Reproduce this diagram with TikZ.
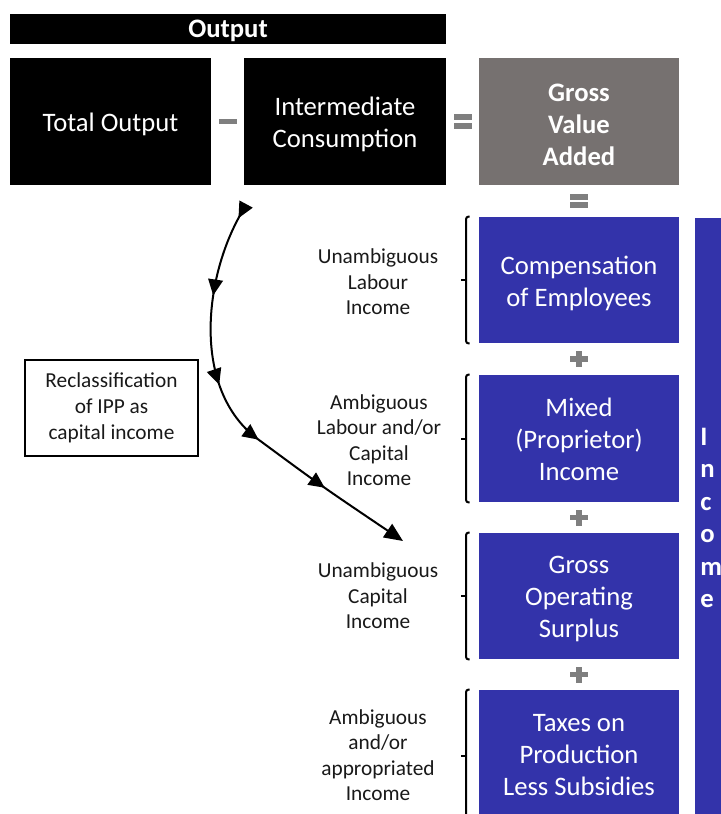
\documentclass[tikz,border=0pt]{standalone}
\usepackage{fontspec}
\setmainfont{Carlito}
\usepackage{xcolor}
\definecolor{incblue}{RGB}{51,51,170}
\definecolor{gvagrey}{RGB}{118,113,112}
\definecolor{signgrey}{RGB}{127,127,127}
\usetikzlibrary{arrows.meta,positioning,decorations.markings,calc}

\begin{document}
\begin{tikzpicture}[x=0.75pt, y=-0.75pt,
  every node/.style={font=\fontsize{20}{24}\selectfont},
  blackbox/.style={fill=black, inner sep=0pt, minimum height=95.25pt},
  bluebox/.style={fill=incblue, inner sep=0pt, minimum width=150pt},
  boxtext/.style={text=white, align=center, inner sep=0pt, yshift=-2.3pt},
  boldtext/.style={boxtext, font=\bfseries\fontsize{20}{24}\selectfont},
  sidelabel/.style={font=\fontsize{16}{19.1}\selectfont, align=center, text=black!90},
  signbar/.style={fill=signgrey, minimum width=13.5pt, minimum height=4.4pt, inner sep=0pt},
  signstem/.style={fill=signgrey, minimum width=4.2pt, minimum height=12pt, inner sep=0pt},
  bracket/.style={line width=1.5pt, rounded corners=1.5pt},
  ippflow/.style={line width=1.5pt, -{Triangle[length=14pt,width=12pt]},
    decoration={markings,
      mark=at position 0.03 with {\arrow{Triangle[length=12pt,width=11pt]}},
      mark=at position 0.22 with {\arrow{Triangle[length=12pt,width=11pt]}},
      mark=at position 0.43 with {\arrow{Triangle[length=12pt,width=11pt]}},
      mark=at position 0.59 with {\arrow{Triangle[length=12pt,width=11pt]}},
      mark=at position 0.78 with {\arrow{Triangle[length=12pt,width=11pt]}}},
    postaction={decorate}}]
  \clip (0,0) rectangle (721,814);
  \useasboundingbox (0,0) rectangle (721,814);

  % output side
  \node[blackbox, minimum width=327pt, minimum height=22.5pt,
    label={[boldtext, yshift=0.8pt]center:Output}] (outbar) at (228,29) {};
  \node[blackbox, minimum width=150.75pt,
    label={[boxtext]center:Total Output}] (tot) at (110.5,121.5) {};
  \node[blackbox, minimum width=151.5pt,
    label={[boxtext]center:{Intermediate\\Consumption}}] (inter) at (345,121.5) {};
  \node[blackbox, fill=gvagrey, minimum width=150pt,
    label={[boldtext]center:{Gross\\Value\\Added}}] (gva) at (579,121.5) {};

  % income components
  \node[bluebox, minimum height=94.5pt,
    label={[boxtext]center:{Compensation\\of Employees}}] (coe) at (579,280) {};
  \node[bluebox, minimum height=95.25pt,
    label={[boxtext, yshift=1.4pt]center:{Mixed\\(Proprietor)\\Income}}] (mix) at (579,438.5) {};
  \node[bluebox, minimum height=94.5pt,
    label={[boxtext]center:{Gross\\Operating\\Surplus}}] (gos) at (579,596) {};
  \node[bluebox, minimum height=99pt,
    label={[boxtext, yshift=3.2pt]center:{Taxes on\\Production\\Less Subsidies}}] (tax) at (579,756) {};
  \node[fill=incblue, minimum width=33.75pt, minimum height=459pt, inner sep=0pt] (inc) at (717.5,524) {};
  \node[font=\bfseries\fontsize{20}{24.4}\selectfont, text=white, align=left, anchor=west, inner sep=0pt] (inctxt) at (700,518) {I\\n\\c\\o\\m\\e};

  % signs
  \node[signbar] (minus) at ($(tot.east)!0.5!(inter.west)$) {};
  \coordinate (eq1) at ($(inter.east)!0.5!(gva.west)$);
  \node[signbar, yshift=3.4pt] (eq1a) at (eq1) {};
  \node[signbar, yshift=-3.4pt] (eq1b) at (eq1) {};
  \coordinate (eq2) at ($(gva.south)!0.5!(coe.north)$);
  \node[signbar, yshift=3.1pt] (eq2a) at (eq2) {};
  \node[signbar, yshift=-3.1pt] (eq2b) at (eq2) {};
  \foreach \a/\b in {coe/mix,mix/gos,gos/tax} {
    \node[signbar] (plus-\a) at ($(\a.south)!0.5!(\b.north)$) {};
    \node[signstem] at (plus-\a) {};
  }

  % brackets
  \foreach \b in {coe,mix,gos,tax} {
    \draw[bracket] ([xshift=-6.8pt]\b.north west) -- ([xshift=-9.4pt]\b.north west)
      -- ([xshift=-9.4pt]\b.south west) -- ([xshift=-6.8pt]\b.south west);
    \draw[line width=1.5pt] ([xshift=-9.4pt]\b.west) -- ([xshift=-13pt]\b.west);
  }

  % labels
  \node[sidelabel] (lab1) at (378,282) {Unambiguous\\Labour\\Income};
  \node[sidelabel] (lab2) at (379,440) {Ambiguous\\Labour and/or\\Capital\\Income};
  \node[sidelabel] (lab3) at (378,596) {Unambiguous\\Capital\\Income};
  \node[sidelabel] (lab4) at (378,755) {Ambiguous\\and/or\\appropriated\\Income};

  % IPP reclassification
  \node[draw, line width=1.1pt, minimum width=129.75pt, minimum height=72pt, inner sep=0pt,
    sidelabel, font=\fontsize{16}{19.5}\selectfont] (recl) at (111.5,408) {Reclassification\\of IPP as\\capital income};
  \coordinate (ipp-start) at (245,207);
  \coordinate (ipp-mid) at (255,437);
  \coordinate (ipp-end) at (403,541);
  \draw[ippflow] (ipp-start) .. controls (205,270) and (190,385) .. (ipp-mid)
    .. controls (320,485) .. (ipp-end);
\end{tikzpicture}
\end{document}
